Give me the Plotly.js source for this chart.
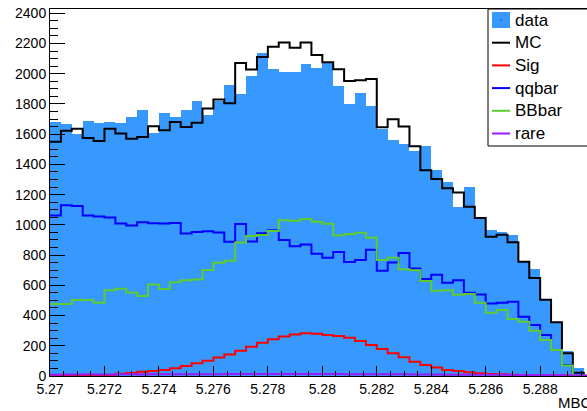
<!DOCTYPE html>
<html>
<head>
<meta charset="utf-8">
<script src="https://cdn.plot.ly/plotly-3.0.1.min.js"></script>
<style>
  html, body { margin: 0; padding: 0; background: #ffffff; }
  #chart { width: 587px; height: 411px; }
</style>
</head>
<body>
<div id="chart"></div>
<script>
// MBC spectrum: 50 bins of 0.0004 GeV starting at 5.27
const binLow = 5.27;
const binWidth = 0.0004;

const dataCounts = [
  1681, 1670, 1600, 1688, 1677, 1683, 1672, 1712, 1763, 1608,
  1743, 1716, 1757, 1821, 1728, 1822, 1926, 1867, 1984, 2138,
  2030, 2008, 2014, 2066, 2038, 2069, 1921, 1800, 1874, 1789,
  1636, 1560, 1537, 1487, 1522, 1363, 1283, 1119, 1253, 1040,
  968, 956, 936, 760, 708, 505, 350, 165, 52, 6
];
const mcCounts = [
  1549, 1622, 1635, 1575, 1555, 1635, 1604, 1569, 1582, 1652,
  1626, 1681, 1648, 1676, 1769, 1829, 1805, 2071, 2027, 2111,
  2178, 2206, 2171, 2206, 2124, 2076, 2029, 1952, 1957, 1965,
  1646, 1698, 1651, 1520, 1362, 1303, 1242, 1214, 1119, 1046,
  922, 935, 885, 756, 648, 505, 355, 150, 22, 2
];
const sigCounts = [
  2, 3, 3, 4, 5, 7, 15, 20, 28, 33,
  40, 51, 66, 84, 101, 123, 143, 167, 194, 220,
  243, 261, 274, 282, 280, 272, 264, 253, 231, 205,
  178, 150, 124, 95, 73, 57, 40, 33, 24, 18,
  14, 11, 9, 7, 6, 5, 4, 3, 2, 1
];
const qqbarCounts = [
  1062, 1130, 1125, 1062, 1055, 1048, 1009, 995, 1018, 1010,
  1009, 1013, 943, 952, 958, 950, 888, 1006, 890, 945,
  965, 899, 859, 870, 808, 782, 820, 754, 767, 835,
  696, 751, 813, 712, 641, 670, 617, 634, 551, 540,
  480, 485, 491, 392, 337, 271, 172, 73, 10, 0
];
const bbbarCounts = [
  476, 476, 502, 502, 485, 568, 577, 552, 529, 605,
  575, 620, 634, 639, 701, 749, 762, 883, 926, 933,
  959, 1031, 1027, 1038, 1020, 1007, 930, 939, 947, 914,
  767, 782, 707, 699, 628, 564, 568, 537, 542, 485,
  419, 436, 377, 359, 299, 238, 172, 70, 5, 2
];
const rareCounts = [
  9, 10, 10, 11, 10, 10, 11, 11, 10, 11,
  11, 12, 11, 12, 12, 12, 13, 13, 13, 14,
  14, 14, 14, 14, 13, 13, 13, 12, 12, 12,
  11, 11, 11, 10, 10, 10, 9, 9, 9, 8,
  8, 8, 7, 7, 6, 6, 5, 4, 3, 1
];

const xTickVals = [5.27, 5.272, 5.274, 5.276, 5.278, 5.28, 5.282, 5.284, 5.286, 5.288];
const xTickText = ['5.27', '5.272', '5.274', '5.276', '5.278', '5.28', '5.282', '5.284', '5.286', '5.288'];
const yTickVals = [0, 200, 400, 600, 800, 1000, 1200, 1400, 1600, 1800, 2000, 2200, 2400];

const legendLabels = ['data', 'MC', 'Sig', 'qqbar', 'BBbar', 'rare'];

const colData = '#3799fd';
const colMC = '#000000';
const colSig = '#ff0000';
const colQQ = '#0000ff';
const colBB = '#5fcc2e';
const colRare = '#9a19ff';

const nBins = dataCounts.length;
const centers = dataCounts.map((_, i) => binLow + (i + 0.5) * binWidth);
const edges = Array.from({ length: nBins + 1 }, (_, i) => binLow + i * binWidth);
const stepY = v => v.concat([v[v.length - 1]]);

function stepTrace(values, color, name) {
  return {
    type: 'scatter', mode: 'lines', name: name,
    x: edges, y: stepY(values),
    line: { shape: 'hv', color: color, width: 2 },
    showlegend: false, hoverinfo: 'skip'
  };
}

const traces = [
  {
    type: 'bar', name: 'data', x: centers, y: dataCounts, width: binWidth,
    marker: { color: colData, line: { width: 0 } },
    showlegend: false, hoverinfo: 'skip'
  },
  stepTrace(mcCounts, colMC, 'MC'),
  stepTrace(sigCounts, colSig, 'Sig'),
  stepTrace(qqbarCounts, colQQ, 'qqbar'),
  stepTrace(bbbarCounts, colBB, 'BBbar'),
  stepTrace(rareCounts, colRare, 'rare')
];

// plot frame in pixels
const W = 587, H = 411;
const L = 50, T = 9, B = 35, R = 0;
const plotW = W - L - R, plotH = H - T - B;
const px = x => (x - L) / plotW;
const py = y => (T + plotH - y) / plotH;

const font = 'Liberation Sans, Arial, Helvetica, sans-serif';

// legend box drawn in pixel positions
const legendLeft = 488, legendTop = 9, legendBottom = 146;
const rowY = [20, 42.7, 65.4, 88.1, 110.8, 133.5];
const lineColors = [null, colMC, colSig, colQQ, colBB, colRare];

const shapes = [
  { type: 'rect', xref: 'paper', yref: 'paper',
    x0: px(legendLeft), x1: px(W + 5), y0: py(legendBottom), y1: py(legendTop),
    line: { color: '#000', width: 1 }, fillcolor: '#ffffff', layer: 'above' },
  { type: 'rect', xref: 'paper', yref: 'paper',
    x0: px(492), x1: px(510), y0: py(28), y1: py(12),
    line: { width: 0 }, fillcolor: colData, layer: 'above' },
  { type: 'rect', xref: 'paper', yref: 'paper',
    x0: px(500.5), x1: px(501.5), y0: py(20.5), y1: py(19.5),
    line: { width: 0 }, fillcolor: '#000', layer: 'above' }
];
for (let i = 1; i < legendLabels.length; i++) {
  shapes.push({ type: 'line', xref: 'paper', yref: 'paper',
    x0: px(492), x1: px(510), y0: py(rowY[i]), y1: py(rowY[i]),
    line: { color: lineColors[i], width: 2 }, layer: 'above' });
}

const annotations = legendLabels.map((t, i) => ({
  text: t, xref: 'paper', yref: 'paper', x: px(513), y: py(rowY[i]),
  xanchor: 'left', yanchor: 'middle', showarrow: false,
  font: { family: font, size: 17, color: '#000' }
}));
annotations.push({
  text: 'MBC', xref: 'paper', yref: 'paper', x: px(556), y: py(402),
  xanchor: 'left', yanchor: 'middle', showarrow: false,
  font: { family: font, size: 15, color: '#000' }
});

const layout = {
  width: W, height: H,
  margin: { l: L, r: R, t: T, b: B, pad: 0 },
  paper_bgcolor: '#ffffff', plot_bgcolor: '#ffffff',
  bargap: 0, barmode: 'overlay',
  showlegend: false,
  font: { family: font, size: 14, color: '#000' },
  xaxis: {
    range: [5.27, 5.28972], autorange: false,
    tickmode: 'array', tickvals: xTickVals, ticktext: xTickText,
    ticks: 'inside', ticklen: 10, tickwidth: 1, tickcolor: '#000',
    minor: { tick0: 5.27, dtick: 0.0005, ticks: 'inside', ticklen: 5, tickcolor: '#000', showgrid: false },
    showline: true, linecolor: '#000', linewidth: 1, mirror: true,
    showgrid: false, zeroline: false, automargin: false,
    tickfont: { family: font, size: 14, color: '#000' }
  },
  yaxis: {
    range: [0, 2428], autorange: false,
    tickmode: 'array', tickvals: yTickVals, ticktext: yTickVals.map(String),
    ticks: 'inside', ticklen: 15, tickwidth: 1, tickcolor: '#000',
    minor: { tick0: 0, dtick: 50, ticks: 'inside', ticklen: 8, tickcolor: '#000', showgrid: false },
    showline: true, linecolor: '#000', linewidth: 1,
    showgrid: false, zeroline: false, automargin: false,
    tickfont: { family: font, size: 14, color: '#000' }
  },
  shapes: shapes,
  annotations: annotations
};

Plotly.newPlot('chart', traces, layout, { staticPlot: true, displayModeBar: false });
</script>
</body>
</html>
